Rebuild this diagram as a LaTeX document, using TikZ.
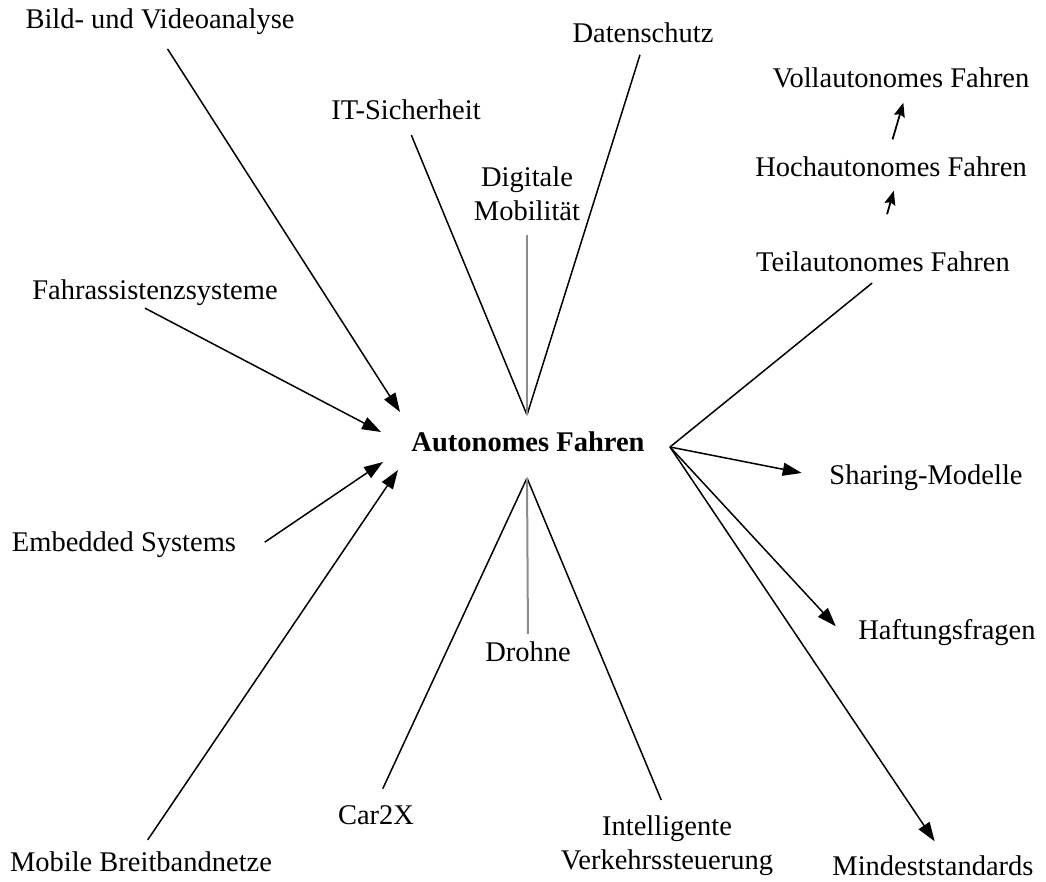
\documentclass[tikz,border=0pt]{standalone}
\usepackage{fontspec}
\setmainfont{Liberation Serif}
\usetikzlibrary{arrows.meta}

\tikzset{
  lbl/.style={inner sep=2pt, font=\fontsize{28.5}{34}\selectfont, align=center},
  link/.style={line width=1.5pt},
  arr/.style={link, -{Triangle[length=19pt,width=13pt]}},
  sarr/.style={line width=1.8pt, -{Stealth[length=14pt,width=11pt,inset=2pt]}},
  grey/.style={line width=2pt, draw=black!45},
}

\begin{document}
\begin{tikzpicture}[x=1pt,y=-1pt]
  \useasboundingbox (0,0) rectangle (1046,882);
  % hub
  \node[lbl, font=\fontsize{28.5}{34}\selectfont\bfseries] (af) at (528,442) {Autonomes Fahren};
  \coordinate (top) at (527,415);
  \coordinate (bot) at (527,478);
  \coordinate (rgt) at (670,447);
  \coordinate (in1) at (400,412);
  \coordinate (in2) at (381,432);
  \coordinate (in3) at (383,462);
  \coordinate (in4) at (398,470);

  % labels
  \node[lbl] (bild) at (160,22) {Bild- und Videoanalyse};
  \node[lbl] (fahr) at (155,293) {Fahrassistenzsysteme};
  \node[lbl] (emb) at (124,545) {Embedded Systems};
  \node[lbl] (mob) at (141,862) {Mobile Breitbandnetze};
  \node[lbl] (it) at (406,110) {IT-Sicherheit};
  \node[lbl] (daten) at (643,33) {Datenschutz};
  \node[lbl] (digi) at (527,194) {Digitale\\Mobilität};
  \node[lbl] (voll) at (901,78) {Vollautonomes Fahren};
  \node[lbl] (hoch) at (891,167) {Hochautonomes Fahren};
  \node[lbl] (teil) at (883,262) {Teilautonomes Fahren};
  \node[lbl] (share) at (926,478) {Sharing-Modelle};
  \node[lbl] (haft) at (947,633) {Haftungsfragen};
  \node[lbl] (mind) at (933,866) {Mindeststandards};
  \node[lbl] (drohne) at (528,652) {Drohne};
  \node[lbl] (car) at (376,815) {Car2X};
  \node[lbl] (intel) at (667,846) {Intelligente\\Verkehrssteuerung};

  % arrows into the hub
  \draw[arr, shorten <=14pt] (bild.south) -- (in1);
  \draw[arr] ([xshift=-10pt]fahr.south) -- (in2);
  \draw[arr, shorten <=32pt] (emb.south east) -- (in3);
  \draw[arr, shorten <=12pt] (mob.north) -- (in4);

  % plain lines
  \draw[link, shorten <=14pt] (it.south) -- (top);
  \draw[link, shorten <=10pt] (daten.south) -- (top);
  \draw[grey, shorten <=12pt] (digi.south) -- (top);
  \draw[link, shorten <=14pt] (teil.south) -- (rgt);
  \draw[link, shorten <=16pt] (car.north) -- (bot);
  \draw[link, shorten <=15pt] (intel.north) -- (bot);
  \draw[grey, shorten <=6pt] (drohne.north) -- (bot);

  % arrows out of the hub
  \draw[arr, shorten >=26pt] (rgt) -- (share.west);
  \draw[arr, shorten >=30pt] (rgt) -- (haft.south west);
  \draw[arr, shorten >=15pt] (rgt) -- ([xshift=10pt]mind.north);

  % levels
  \draw[sarr, shorten <=37pt, shorten >=12pt] ([xshift=-6pt]teil.north) -- ([xshift=6pt]hoch.south);
  \draw[sarr, shorten <=16pt, shorten >=13pt] ([xshift=-3pt]hoch.north) -- ([xshift=6pt]voll.south);
\end{tikzpicture}
\end{document}
